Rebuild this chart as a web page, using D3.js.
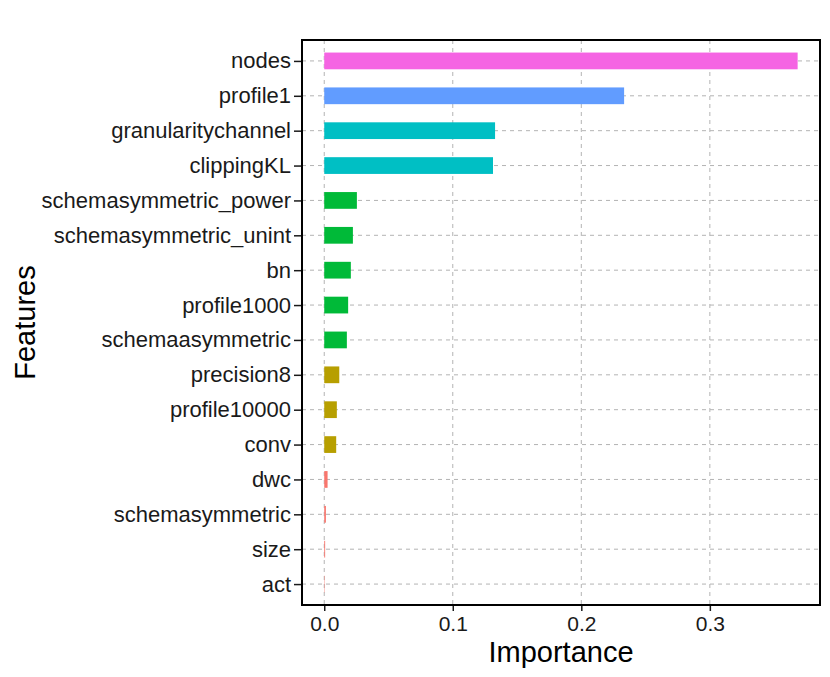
<!DOCTYPE html>
<html>
<head>
<meta charset="utf-8">
<script src="https://cdn.jsdelivr.net/npm/d3@7"></script>
<style>
  body { margin: 0; background: #fff; }
  text { font-family: "Liberation Sans", Arial, sans-serif; }
</style>
</head>
<body>
<svg id="chart"></svg>
<script>
let w = 830;
let h = 677;

// features top to bottom
let features = ["nodes", "profile1", "granularitychannel", "clippingKL",
  "schemasymmetric_power", "schemasymmetric_unint", "bn", "profile1000",
  "schemaasymmetric", "precision8", "profile10000", "conv", "dwc",
  "schemasymmetric", "size", "act"];
let importance = [0.3683, 0.2333, 0.1329, 0.1313, 0.0254, 0.0223, 0.0207,
  0.0186, 0.0176, 0.0117, 0.0098, 0.0093, 0.0026, 0.0013, 0.0007, 0.0003];
let group = [6, 5, 4, 4, 3, 3, 3, 3, 3, 2, 2, 2, 1, 1, 1, 1];
let groupColors = ["#F8766D", "#B79F00", "#00BA38", "#00BFC4", "#619CFF", "#F564E3"];
let xTicks = [0, 0.1, 0.2, 0.3];

let pLeft = 302, pRight = 820, pTop = 40, pBottom = 605;

let chart = d3.select("#chart")
  .attr("width", w)
  .attr("height", h);

let xScale = d3.scaleLinear()
  .domain([-0.0173, 0.3857])
  .range([pLeft, pRight]);

let yScale = d3.scalePoint()
  .domain(features)
  .range([pTop, pBottom])
  .padding(0.6);

let cScale = d3.scaleOrdinal()
  .domain([1, 2, 3, 4, 5, 6])
  .range(groupColors);

// grid
let grid = chart.append("g")
  .attr("stroke", "#b3b3b3")
  .attr("stroke-width", 1)
  .attr("stroke-dasharray", "4,4");

grid.selectAll(".vgrid")
  .data(xTicks)
  .enter()
  .append("line")
  .attr("x1", (d) => xScale(d))
  .attr("x2", (d) => xScale(d))
  .attr("y1", pTop)
  .attr("y2", pBottom);

grid.selectAll(".hgrid")
  .data(features)
  .enter()
  .append("line")
  .attr("x1", pLeft)
  .attr("x2", pRight)
  .attr("y1", (d) => yScale(d))
  .attr("y2", (d) => yScale(d));

// bars
let barH = yScale.step() * 0.48;
chart.selectAll(".bar")
  .data(features)
  .enter()
  .append("rect")
  .attr("x", xScale(0))
  .attr("y", (d) => yScale(d) - barH / 2)
  .attr("width", (d, i) => xScale(importance[i]) - xScale(0))
  .attr("height", barH)
  .attr("fill", (d, i) => cScale(group[i]));

// panel border
chart.append("rect")
  .attr("x", pLeft)
  .attr("y", pTop)
  .attr("width", pRight - pLeft)
  .attr("height", pBottom - pTop)
  .attr("fill", "none")
  .attr("stroke", "#000")
  .attr("stroke-width", 2);

// axes
let xAxis = d3.axisBottom(xScale)
  .tickValues(xTicks)
  .tickSize(5)
  .tickPadding(5)
  .tickFormat(d3.format(".1f"));

let yAxis = d3.axisLeft(yScale)
  .tickSize(7)
  .tickPadding(3);

let xAxisGroup = chart.append("g")
  .attr("transform", `translate(0, ${pBottom + 1})`)
  .call(xAxis);

let yAxisGroup = chart.append("g")
  .attr("transform", `translate(${pLeft - 1}, 0)`)
  .call(yAxis);

[xAxisGroup, yAxisGroup].forEach((g) => {
  g.select(".domain").remove();
  g.selectAll(".tick line").attr("stroke", "#1a1a1a").attr("stroke-width", 1.5);
  g.selectAll(".tick text")
    .attr("fill", "#1a1a1a")
    .style("font-family", "'Liberation Sans', Arial, sans-serif");
});
xAxisGroup.selectAll(".tick text").style("font-size", "21px");
yAxisGroup.selectAll(".tick text").style("font-size", "22px");

// axis titles
chart.append("text")
  .attr("x", (pLeft + pRight) / 2)
  .attr("y", 662)
  .attr("text-anchor", "middle")
  .style("font-size", "29px")
  .text("Importance");

chart.append("text")
  .attr("transform", `translate(35, ${(pTop + pBottom) / 2}) rotate(-90)`)
  .attr("text-anchor", "middle")
  .style("font-size", "29px")
  .text("Features");
</script>
</body>
</html>
